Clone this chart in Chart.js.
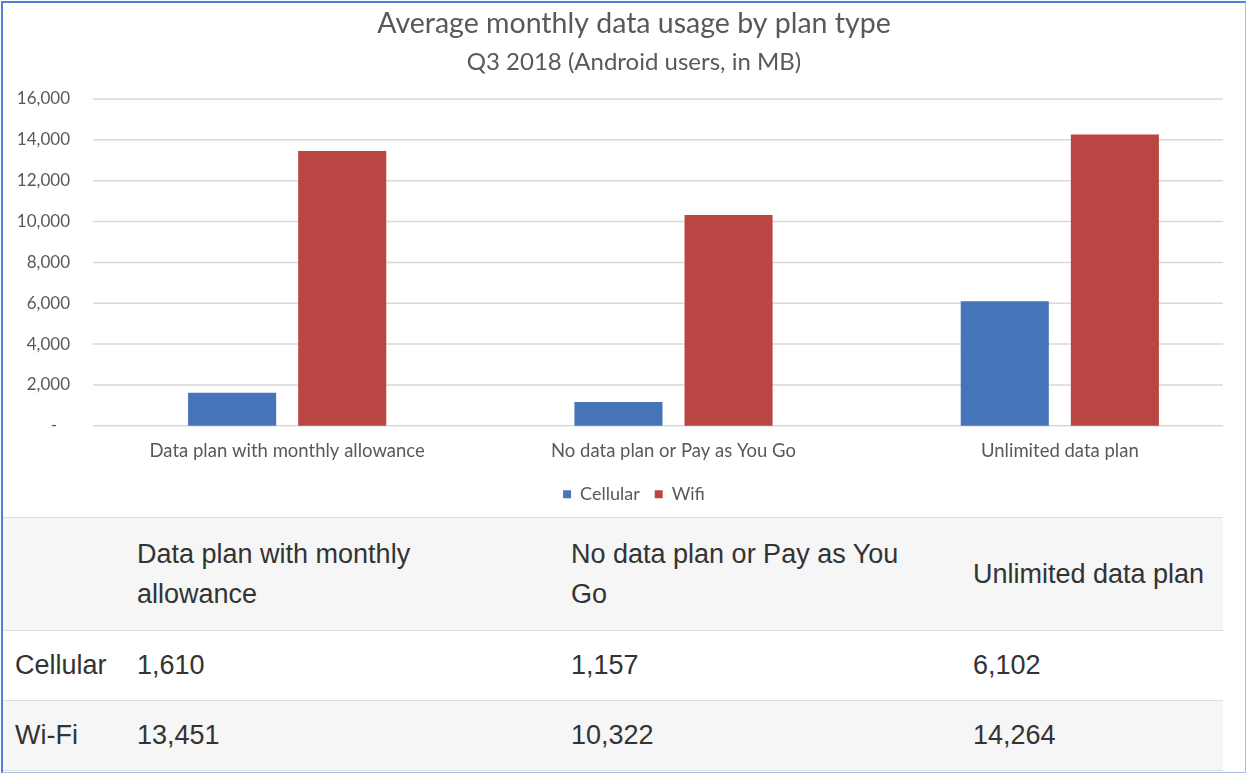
<!DOCTYPE html>
<html>
<head>
<meta charset="utf-8">
<script src="https://cdn.jsdelivr.net/npm/chart.js@4"></script>
<style>
  html, body { margin: 0; padding: 0; background: #fff; }
  body { width: 1247px; height: 774px; position: relative; overflow: hidden; }
  .frame {
    position: absolute; left: 1px; top: 1px; width: 1245px; height: 772px;
    box-sizing: border-box;
    border-top: 2px solid #5081d3; border-left: 2px solid #5081d3;
    border-right: 1px solid #a9bde3; border-bottom: 1px solid #a9bde3;
    pointer-events: none; z-index: 2;
  }
  .chart-box { position: absolute; left: 3px; top: 4px; width: 1257px; height: 513px; }
  table.usage {
    position: absolute; left: 3px; top: 517px; width: 1220px;
    border-collapse: collapse; table-layout: fixed;
    font-family: "Liberation Sans", Arial, sans-serif; font-size: 27px;
    line-height: 1.5; color: #333;
  }
  table.usage td { padding: 0 0 0 12px; vertical-align: middle; border-top: 1px solid #dcdcdc; }
  table.usage tr:last-child td { border-bottom: 1px solid #dcdcdc; }
  table.usage tr.gray td { background: #f6f6f6; }
  table.usage tr.head { height: 113px; }
  table.usage tr.row { height: 70px; }
  table.usage td.c2 { padding-right: 50px; }
  table.usage td.c3 { padding-right: 40px; }
  table.usage td.c4 { padding-right: 10px; }
</style>
</head>
<body>
<div class="frame"></div>
<div class="chart-box"><canvas id="usageChart"></canvas></div>
<table class="usage" id="usageTable">
  <colgroup>
    <col style="width:122px"><col style="width:434px"><col style="width:402px"><col style="width:262px">
  </colgroup>
</table>
<script>
// chart data
const categories = ['Data plan with monthly allowance', 'No data plan or Pay as You Go', 'Unlimited data plan'];
const cellular = [1610, 1157, 6102];
const wifi = [13451, 10322, 14264];
const yTicks = [0, 2000, 4000, 6000, 8000, 10000, 12000, 14000, 16000];
const tableRowLabels = ['Cellular', 'Wi-Fi'];

const GREY = '#595959';
const GRID_LEFT = 90;
const GRID_RIGHT = 1220;

// Excel-like gridlines that stop short of the right edge
const gridLines = {
  id: 'gridLines',
  beforeDatasetsDraw(chart) {
    const { ctx, scales: { y } } = chart;
    ctx.save();
    ctx.strokeStyle = '#d9d9d9';
    ctx.lineWidth = 1.5;
    yTicks.forEach(v => {
      const py = y.getPixelForValue(v);
      ctx.beginPath();
      ctx.moveTo(GRID_LEFT, py);
      ctx.lineTo(GRID_RIGHT, py);
      ctx.stroke();
    });
    ctx.restore();
  }
};

document.addEventListener('DOMContentLoaded', () => {
  const ctx = document.getElementById('usageChart').getContext('2d');

  new Chart(ctx, {
    type: 'bar',
    data: {
      labels: categories,
      datasets: [
        { label: 'Cellular', data: cellular, backgroundColor: '#4575b8' },
        { label: 'Wifi', data: wifi, backgroundColor: '#bb4542' }
      ]
    },
    plugins: [gridLines],
    options: {
      responsive: true,
      maintainAspectRatio: false,
      animation: false,
      layout: { padding: { left: 12, right: 7, top: 0, bottom: 3.75 } },
      datasets: {
        bar: { categoryPercentage: 0.57, barPercentage: 0.8, clip: false }
      },
      plugins: {
        title: {
          display: true,
          text: 'Average monthly data usage by plan type',
          color: GREY,
          font: { family: 'Lato', size: 28.5, weight: 'normal' },
          padding: { top: 3, bottom: 0 }
        },
        subtitle: {
          display: true,
          text: 'Q3 2018 (Android users, in MB)',
          color: GREY,
          font: { family: 'Lato', size: 24, weight: 'normal' },
          padding: { top: 6.2, bottom: 22.8 }
        },
        legend: {
          position: 'bottom',
          labels: {
            color: GREY,
            font: { family: 'Lato', size: 18 },
            boxWidth: 8,
            boxHeight: 8,
            padding: 15
          }
        },
        tooltip: { enabled: false }
      },
      scales: {
        x: {
          grid: { display: false, drawTicks: false },
          border: { display: false },
          ticks: {
            color: GREY,
            font: { family: 'Lato', size: 18.5 },
            padding: 14.4,
            maxRotation: 0,
            autoSkip: false
          },
          afterFit: scale => { scale.height -= 6.5; }
        },
        y: {
          min: 0,
          max: 16000,
          grid: { display: false, drawTicks: false },
          border: { display: false },
          afterFit: scale => {
            scale.width = 79;
            scale.paddingTop = 10;
            scale.paddingBottom = 10;
          },
          ticks: {
            stepSize: 2000,
            color: GREY,
            font: { family: 'Lato', size: 17 },
            padding: 24,
            // accounting style: zero shown as a dash
            callback: v => (v === 0 ? '-   ' : v.toLocaleString('en-US'))
          }
        }
      }
    }
  });

  // data table under the chart
  const table = document.getElementById('usageTable');
  const head = document.createElement('tr');
  head.className = 'head gray';
  head.innerHTML = '<td></td>' + categories.map((c, i) => `<td class="c${i + 2}">${c}</td>`).join('');
  table.appendChild(head);
  [cellular, wifi].forEach((series, r) => {
    const tr = document.createElement('tr');
    tr.className = 'row' + (r === 1 ? ' gray' : '');
    tr.innerHTML = `<td>${tableRowLabels[r]}</td>` +
      series.map((v, i) => `<td class="c${i + 2}">${v.toLocaleString('en-US')}</td>`).join('');
    table.appendChild(tr);
  });
});
</script>
</body>
</html>
